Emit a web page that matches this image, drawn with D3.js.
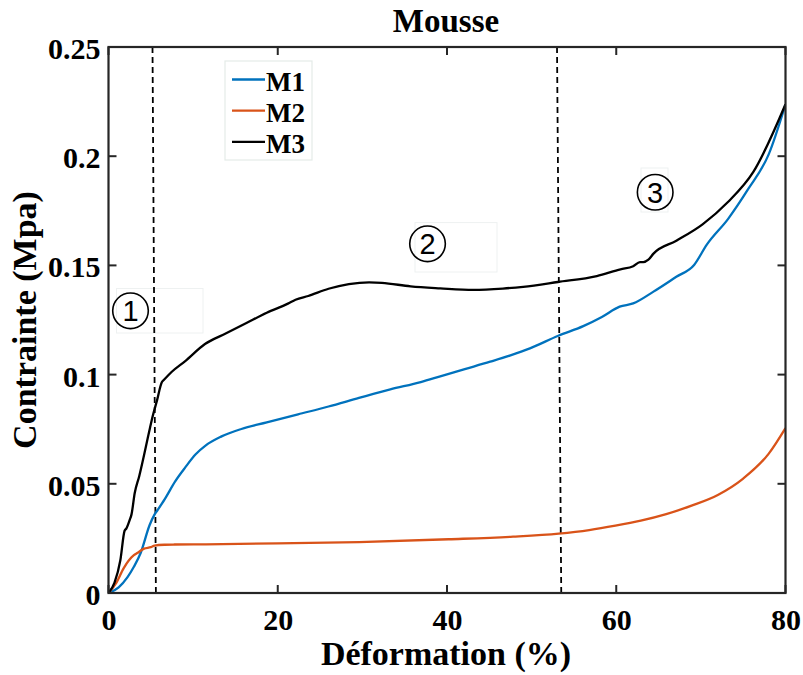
<!DOCTYPE html>
<html><head><meta charset="utf-8">
<script src="https://cdn.jsdelivr.net/npm/d3@7"></script>
<style>body{margin:0;background:#fff}svg{display:block}text{font-family:"Liberation Serif","Times New Roman",serif;fill:#000}</style>
</head><body><svg id="c" width="803" height="675"></svg>
<script>
const title = "Mousse";
const xLabel = "Déformation (%)";
const yLabel = "Contrainte (Mpa)";
const xTicks = [0, 20, 40, 60, 80];
const yTicks = [0, 0.05, 0.1, 0.15, 0.2, 0.25];
const yTickLabels = ["0", "0.05", "0.1", "0.15", "0.2", "0.25"];
const seriesNames = ["M1", "M2", "M3"];
const seriesColors = ["#0072BD", "#D95319", "#000000"];

const m1x = [0,1.2,2.25,3.0,3.8,4.85,5.45,5.8,6.65,7.86,9.07,10.3,11.5,13.3,15.7,18.7,22.4,26.0,29.6,33.3,36.9,39.2,42.1,45.1,47.5,49.8,53.15,56.1,58.3,60.4,62.0,64.4,67.1,69.2,70.7,73.2,75.6,78.0,80];
const m1y = [0,0.0026,0.0073,0.012,0.0183,0.031,0.036,0.038,0.043,0.051,0.0575,0.0635,0.0676,0.0716,0.0751,0.0781,0.0818,0.0854,0.0893,0.0932,0.0966,0.0992,0.1025,0.1059,0.1088,0.112,0.1178,0.1222,0.1264,0.1311,0.1326,0.138,0.1448,0.1502,0.1595,0.1712,0.185,0.2007,0.2238];

const m2x = [0,0.9,1.8,3.0,3.4,4.2,5.0,5.44,6.65,7.8,11.5,20,29.6,40.2,47.8,53.2,56.8,59.9,62.9,65.9,68.9,72,75,78,80];
const m2y = [0,0.0045,0.0114,0.0173,0.0183,0.0203,0.021,0.0217,0.0221,0.0222,0.0223,0.0227,0.0233,0.0246,0.0258,0.0272,0.0288,0.0308,0.0331,0.0361,0.04,0.0449,0.0524,0.0637,0.0755];

const m3x = [0,0.7,1.4,1.9,2.12,2.5,2.72,3.1,3.63,4.84,5.1,5.74,6.3,6.53,7.45,9.07,11.4,13.9,16.3,18.7,21.2,22.1,23.6,26.0,28.4,30.8,32.3,35.7,39.2,43.1,46.6,49.0,53.1,57.7,60.5,62.0,62.8,63.2,63.8,64.4,67.1,70.2,73.2,76.2,80];
const m3y = [0,0.0046,0.015,0.0285,0.0296,0.0334,0.036,0.0458,0.0535,0.0745,0.079,0.0883,0.0965,0.0975,0.1012,0.1062,0.1140,0.1189,0.1236,0.1283,0.1325,0.1343,0.1360,0.1393,0.1414,0.1422,0.1420,0.1404,0.1395,0.1388,0.1394,0.1402,0.1424,0.1451,0.1482,0.1496,0.1515,0.1515,0.1526,0.1554,0.1613,0.1688,0.1790,0.1928,0.2238];

const vlineTopX = [5.2, 53.0];
const vlineBottomX = [5.6, 53.5];

const regionLabels = ["1", "2", "3"];
const regionX = [2.6, 37.7, 64.6];
const regionY = [0.1292, 0.1599, 0.1835];

const svg = d3.select("#c");
const L = 108.5, R = 785.5, T = 47, B = 593;
const x = d3.scaleLinear().domain([0, 80]).range([L, R]);
const y = d3.scaleLinear().domain([0, 0.25]).range([B, T]);
const axisColor = "#262626";

const boxes = [[116.5, 288.5, 86.5, 44.5], [415, 222.6, 82, 49.4], [641, 168, 27, 44]];
boxes.forEach(b => svg.append("rect").attr("x", b[0]).attr("y", b[1]).attr("width", b[2]).attr("height", b[3])
  .attr("fill", "none").attr("stroke", "#eef1f1").attr("stroke-width", 1));

svg.append("defs").append("clipPath").attr("id", "pc").append("rect")
  .attr("x", L).attr("y", T).attr("width", R - L).attr("height", B - T);

const g = svg.append("g").attr("clip-path", "url(#pc)");
vlineTopX.forEach((vx, i) => {
  g.append("line").attr("x1", x(vx)).attr("y1", y(0.25)).attr("x2", x(vlineBottomX[i])).attr("y2", y(0))
    .attr("stroke", "#000").attr("stroke-width", 1.8).attr("stroke-dasharray", "6,4");
});

const line = d3.line().x(d => x(d[0])).y(d => y(d[1])).curve(d3.curveMonotoneX);
const series = [[m1x, m1y], [m2x, m2y], [m3x, m3y]];
series.forEach((s, i) => {
  const pts = s[0].map((v, j) => [v, s[1][j]]);
  g.append("path").attr("d", line(pts)).attr("fill", "none").attr("stroke", seriesColors[i])
    .attr("stroke-width", 2.3).attr("stroke-linejoin", "round");
});

const axG = svg.append("g");
const bottomAxis = d3.axisBottom(x).tickValues(xTicks).tickSize(0).tickPadding(0).tickFormat(d3.format("d"));
axG.append("g").attr("transform", `translate(0,${B})`).call(bottomAxis).call(a => {
  a.select(".domain").remove();
  a.selectAll("text").attr("y", 36.5).attr("dy", null).attr("font-size", 30).attr("font-family", "Liberation Serif").attr("font-weight", "bold").attr("fill", "#000");
});
const leftAxis = d3.axisLeft(y).tickValues(yTicks).tickSize(0).tickPadding(0).tickFormat((d, i) => yTickLabels[i]);
axG.append("g").attr("transform", `translate(${L},0)`).call(leftAxis).call(a => {
  a.select(".domain").remove();
  a.selectAll("text").attr("x", -8).attr("dy", "0.38em").attr("font-size", 30).attr("font-family", "Liberation Serif").attr("font-weight", "bold").attr("fill", "#000");
});
const tl = 8;
xTicks.forEach(t => {
  axG.append("line").attr("x1", x(t)).attr("x2", x(t)).attr("y1", B).attr("y2", B - tl).attr("stroke", axisColor).attr("stroke-width", 2);
  axG.append("line").attr("x1", x(t)).attr("x2", x(t)).attr("y1", T).attr("y2", T + tl).attr("stroke", axisColor).attr("stroke-width", 2);
});
yTicks.forEach(t => {
  axG.append("line").attr("x1", L).attr("x2", L + tl).attr("y1", y(t)).attr("y2", y(t)).attr("stroke", axisColor).attr("stroke-width", 2);
  axG.append("line").attr("x1", R).attr("x2", R - tl).attr("y1", y(t)).attr("y2", y(t)).attr("stroke", axisColor).attr("stroke-width", 2);
});
axG.append("rect").attr("x", L).attr("y", T).attr("width", R - L).attr("height", B - T)
  .attr("fill", "none").attr("stroke", axisColor).attr("stroke-width", 2.2);

regionLabels.forEach((lab, i) => {
  const cx = x(regionX[i]), cy = y(regionY[i]);
  svg.append("circle").attr("cx", cx).attr("cy", cy).attr("r", 17.8).attr("fill", "none").attr("stroke", "#000").attr("stroke-width", 1.6);
  svg.append("text").attr("x", cx).attr("y", cy).attr("dy", "0.36em").attr("text-anchor", "middle")
    .style("font-family", "'Liberation Sans', Arial, sans-serif").style("font-weight", "normal").attr("font-size", 29).text(lab);
});

const lg = svg.append("g");
lg.append("rect").attr("x", 225).attr("y", 61).attr("width", 87).attr("height", 99).attr("fill", "#fff")
  .attr("stroke", "#e4ebe8").attr("stroke-width", 1.2);
seriesNames.forEach((n, i) => {
  const ly = 79.5 + i * 31.2;
  lg.append("line").attr("x1", 232).attr("x2", 265).attr("y1", ly).attr("y2", ly).attr("stroke", seriesColors[i]).attr("stroke-width", 2.3);
  lg.append("text").attr("x", 266).attr("y", ly + 11).attr("font-size", 27).attr("font-weight", "bold").text(n);
});

svg.append("text").attr("x", 446).attr("y", 32).attr("text-anchor", "middle").attr("font-size", 33).attr("font-weight", "bold").text(title);
svg.append("text").attr("x", 446).attr("y", 665).attr("text-anchor", "middle").attr("font-size", 34).attr("font-weight", "bold").text(xLabel);
svg.append("text").attr("transform", "translate(36,320) rotate(-90)").attr("text-anchor", "middle").attr("font-size", 34).attr("font-weight", "bold").text(yLabel);
</script></body></html>
